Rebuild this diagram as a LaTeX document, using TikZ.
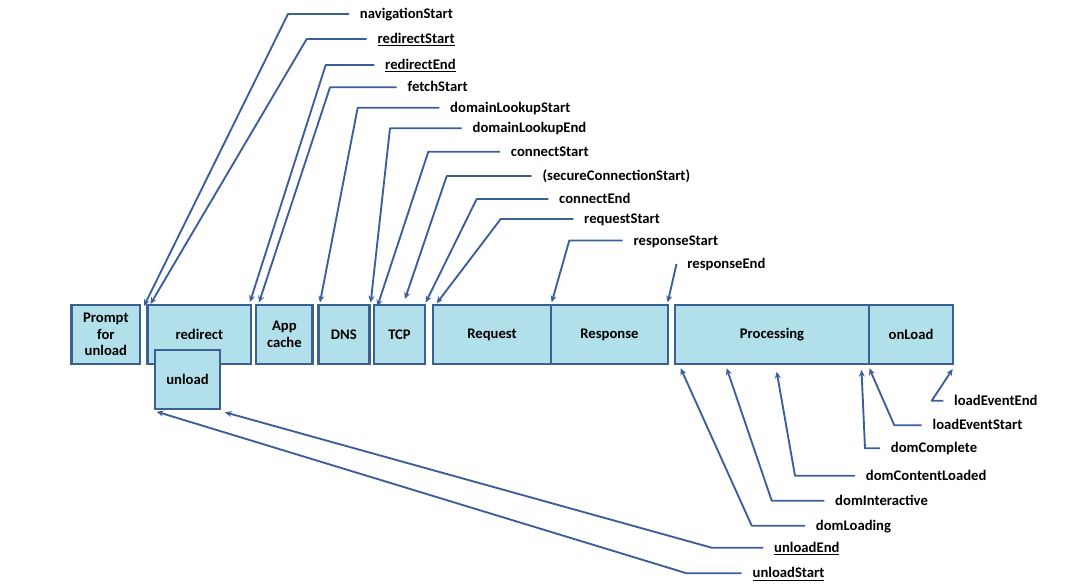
\documentclass[tikz,border=0pt]{standalone}
\usepackage{fontspec}
\setmainfont{Carlito}
\usetikzlibrary{arrows.meta}
\definecolor{boxfill}{HTML}{B1DFEA}
\definecolor{boxline}{HTML}{3B6193}
\definecolor{conncol}{HTML}{3A5F9C}
\begin{document}
\begin{tikzpicture}[x=0.75pt,y=-0.75pt,
  font=\bfseries\fontsize{11}{12.5}\selectfont,
  box/.style={draw=boxline, fill=boxfill, line width=2.1pt, align=center, inner sep=0pt, text=black},
  lbl/.style={anchor=west, inner xsep=8pt, inner ysep=0pt, text height=9pt, text depth=2pt, text=black},
  conn/.style={draw=conncol, line width=1.4pt, -{Stealth[length=5pt,width=4.5pt]}, line join=round}]
\useasboundingbox (0,0) rectangle (1092,586);

% boxes
\node[box, minimum width=68.3*0.75pt, minimum height=59*0.75pt] (prompt) at (105.85,334.5) {Prompt\\for\\unload};
\node[box, minimum width=103.3*0.75pt, minimum height=59*0.75pt] (redirect) at (199.35,334.5) {redirect};
\node[box, minimum width=65*0.75pt, minimum height=59*0.75pt] (unload) at (187.5,379.5) {unload};
\node[box, minimum width=56.7*0.75pt, minimum height=59*0.75pt] (appcache) at (284.35,334.5) {App\\cache};
\node[box, minimum width=51*0.75pt, minimum height=59*0.75pt] (dns) at (343.8,334.5) {DNS};
\node[box, minimum width=51*0.75pt, minimum height=59*0.75pt] (tcp) at (399.5,334.5) {TCP};
\node[box, minimum width=118*0.75pt, minimum height=59*0.75pt] (request) at (492,334.5) {Request};
\node[box, minimum width=117*0.75pt, minimum height=59*0.75pt] (response) at (609.5,334.5) {Response};
\node[box, minimum width=194*0.75pt, minimum height=59*0.75pt] (processing) at (772,334.5) {Processing};
\node[box, minimum width=84*0.75pt, minimum height=59*0.75pt] (onload) at (911,334.5) {onLoad};

% top labels
\node[lbl] (navS) at (349,14) {navigationStart};
\node[lbl] (redS) at (366.7,39) {\underline{redirectStart}};
\node[lbl] (redE) at (374.3,65) {\underline{redirectEnd}};
\node[lbl] (fetS) at (396.7,87.3) {fetchStart};
\node[lbl] (dlS) at (439.3,107.7) {domainLookupStart};
\node[lbl] (dlE) at (461.7,128.3) {domainLookupEnd};
\node[lbl] (conS) at (500,151.7) {connectStart};
\node[lbl] (secS) at (531.7,176) {(secureConnectionStart)};
\node[lbl] (conE) at (548.3,199) {connectEnd};
\node[lbl] (reqS) at (573.3,219) {requestStart};
\node[lbl] (resS) at (622.7,240.5) {responseStart};
\node[lbl] (resE) at (676.5,264) {responseEnd};

\draw[conn] (navS.west) -- (288,14) -- (144,306);
\draw[conn] (redS.west) -- (306.7,39) -- (150.5,304);
\draw[conn] (redE.west) -- (325.7,65) -- (250,302);
\draw[conn] (fetS.west) -- (330,87.3) -- (259,302.5);
\draw[conn] (dlS.west) -- (357.7,107.7) -- (320,302.5);
\draw[conn] (dlE.west) -- (390,128.3) -- (370.7,302.5);
\draw[conn] (conS.west) -- (428.3,151.7) -- (377.3,306.5);
\draw[conn] (secS.west) -- (446.7,176) -- (405,299);
\draw[conn] (conE.west) -- (476.7,199) -- (425.7,302.5);
\draw[conn] (reqS.west) -- (500.7,219) -- (436.7,303.3);
\draw[conn] (resS.west) -- (569.3,240.5) -- (551.7,302.3);
\draw[conn] (resE.west) -- (667.7,302.3);

% bottom labels
\node[lbl] (leE) at (943.3,400.7) {loadEventEnd};
\node[lbl] (leS) at (921.7,425.3) {loadEventStart};
\node[lbl] (dComp) at (880,448.3) {domComplete};
\node[lbl] (dCL) at (855,475.7) {domContentLoaded};
\node[lbl] (dInt) at (824.3,500.7) {domInteractive};
\node[lbl] (dLoad) at (805,525.7) {domLoading};
\node[lbl] (ulE) at (763.3,547.7) {\underline{unloadEnd}};
\node[lbl] (ulS) at (741.7,573.3) {\underline{unloadStart}};

\draw[conn] (leE.west) -- (931.7,400.7) -- (952.7,369);
\draw[conn] (leS.west) -- (894.3,425.3) -- (869.3,368.3);
\draw[conn] (dComp.west) -- (865,448.3) -- (861.5,370);
\draw[conn] (dCL.west) -- (795,475.7) -- (776.7,371.7);
\draw[conn] (dInt.west) -- (771.7,500.7) -- (726.7,368.3);
\draw[conn] (dLoad.west) -- (751.7,525.7) -- (680.7,368.3);
\draw[conn] (ulE.west) -- (711.7,547.7) -- (225,412.3);
\draw[conn] (ulS.west) -- (686.7,573.3) -- (156.7,411.7);
\end{tikzpicture}
\end{document}
